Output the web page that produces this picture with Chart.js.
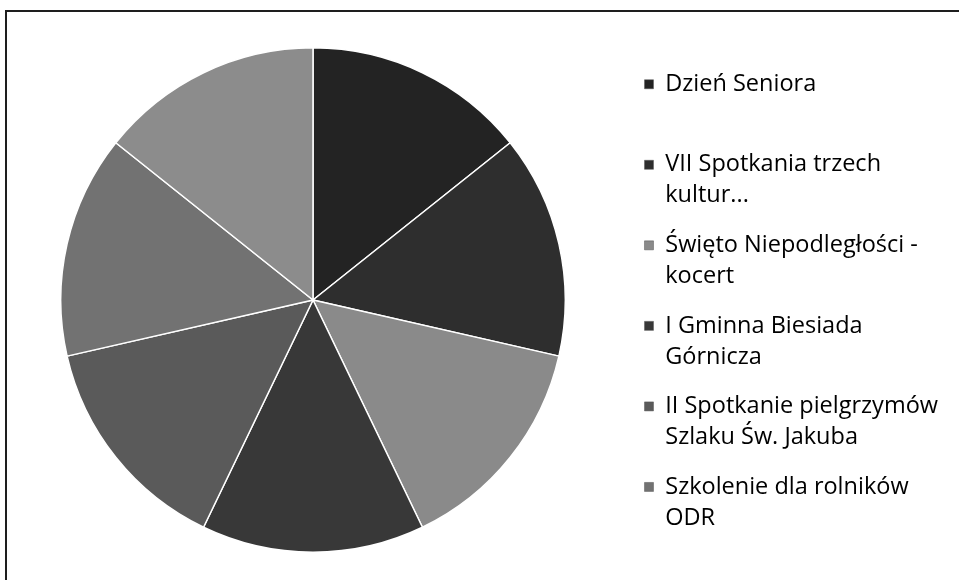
<!DOCTYPE html>
<html lang="pl">
<head>
<meta charset="utf-8">
<title>Wydarzenia</title>
<script src="https://cdn.jsdelivr.net/npm/chart.js"></script>
<style>
  html, body { margin: 0; padding: 0; background: #fff; }
  #wrap { position: relative; width: 959px; height: 580px; overflow: hidden; }
  #ramka {
    position: absolute; left: 5px; top: 10px; width: 960px; height: 580px;
    border-top: 2px solid #1e1e1e; border-left: 2px solid #1e1e1e;
    pointer-events: none;
  }
</style>
</head>
<body>
<div id="wrap">
  <canvas id="wykres" width="959" height="580"></canvas>
  <div id="ramka"></div>
</div>
<script>
// dane (7 równych wycinków, legenda pokazuje 6)
const kategorie = [
  'Dzień Seniora',
  'VII Spotkania trzech\nkultur...',
  'Święto Niepodległości -\nkocert',
  'I Gminna Biesiada\nGórnicza',
  'II Spotkanie pielgrzymów\nSzlaku Św. Jakuba',
  'Szkolenie dla rolników\nODR',
  ''
];
const wartosci = [1, 1, 1, 1, 1, 1, 1];
const kolory = ['#232323', '#2e2e2e', '#8a8a8a', '#383838', '#5a5a5a', '#727272', '#8c8c8c'];

window.addEventListener('DOMContentLoaded', () => {
  const ctx = document.getElementById('wykres').getContext('2d');

  // przesuwa legendę trochę w dół, jak w oryginale
  const przesunLegende = {
    id: 'przesunLegende',
    afterLayout(chart) {
      if (chart.legend) {
        chart.legend.top += 7;
        chart.legend.bottom += 7;
      }
    }
  };

  new Chart(ctx, {
    type: 'pie',
    data: {
      labels: kategorie,
      datasets: [{
        data: wartosci,
        backgroundColor: kolory,
        borderColor: '#ffffff',
        borderWidth: 1.5
      }]
    },
    options: {
      responsive: false,
      animation: false,
      layout: { padding: { left: -6, right: 11, top: 47, bottom: 27 } },
      plugins: {
        tooltip: { enabled: false },
        legend: {
          position: 'right',
          align: 'start',
          labels: {
            boxWidth: 9,
            boxHeight: 9,
            padding: 18.5,
            color: '#141414',
            font: { family: 'Open Sans', size: 23.5, lineHeight: 1.32 },
            filter: item => item.text[0] !== '',
            generateLabels(chart) {
              const dane = chart.data;
              return dane.labels.map((lab, i) => {
                const linie = lab.split('\n');
                if (linie.length < 2) linie.push('');
                return {
                  text: linie,
                  fillStyle: kolory[i],
                  strokeStyle: '#555',
                  lineWidth: 0.5,
                  hidden: false,
                  index: i
                };
              });
            }
          }
        }
      }
    },
    plugins: [przesunLegende]
  });
});
</script>
</body>
</html>
